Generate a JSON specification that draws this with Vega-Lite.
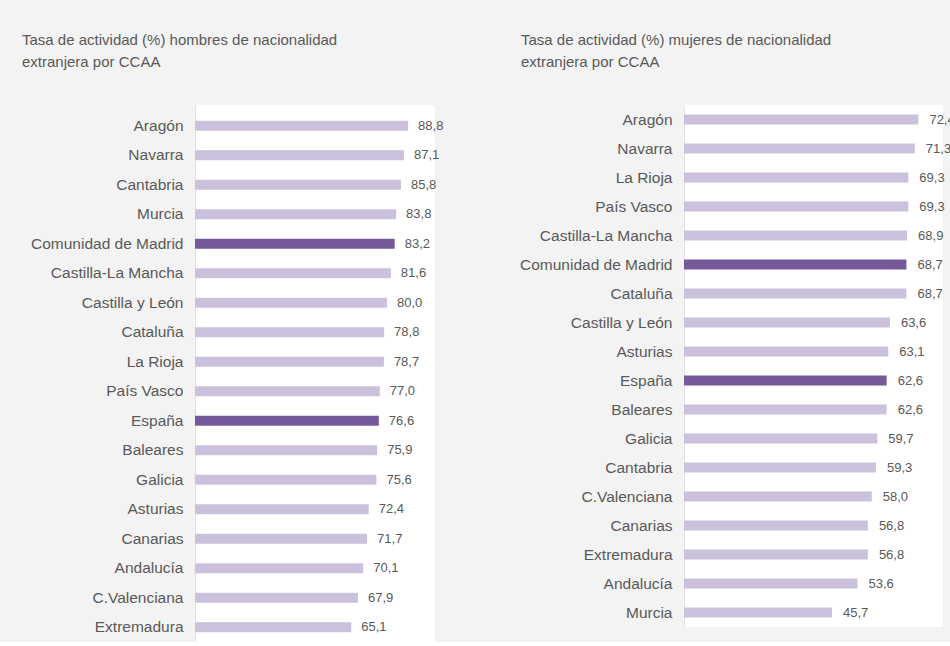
{
  "$schema": "https://vega.github.io/schema/vega-lite/v6.json",
  "background": "#F3F3F3",
  "padding": {"left": 22, "top": 33, "right": 0, "bottom": 0},
  "spacing": 75,
  "config": {
    "locale": {"number": {"decimal": ",", "thousands": ".", "grouping": [3], "currency": ["", " €"]}},
    "view": {"fill": "white", "stroke": null},
    "font": "Liberation Sans",
    "axis": {"title": null, "ticks": false, "tickSize": 0, "labelPadding": 12, "labelFontSize": 15.5, "labelColor": "#595959", "labelFont": "Liberation Sans", "domainColor": "#E3E3E3", "labelLimit": 300, "grid": false},
    "title": {"anchor": "start", "frame": "group", "fontSize": 15, "font": "Liberation Sans", "color": "#595959", "fontWeight": "normal", "lineHeight": 22, "offset": 35}
  },
  "datasets": {
    "hombres": [
      {"ccaa": "Aragón", "tasa": 88.8, "grupo": "otro"},
      {"ccaa": "Navarra", "tasa": 87.1, "grupo": "otro"},
      {"ccaa": "Cantabria", "tasa": 85.8, "grupo": "otro"},
      {"ccaa": "Murcia", "tasa": 83.8, "grupo": "otro"},
      {"ccaa": "Comunidad de Madrid", "tasa": 83.2, "grupo": "destacado"},
      {"ccaa": "Castilla-La Mancha", "tasa": 81.6, "grupo": "otro"},
      {"ccaa": "Castilla y León", "tasa": 80.0, "grupo": "otro"},
      {"ccaa": "Cataluña", "tasa": 78.8, "grupo": "otro"},
      {"ccaa": "La Rioja", "tasa": 78.7, "grupo": "otro"},
      {"ccaa": "País Vasco", "tasa": 77.0, "grupo": "otro"},
      {"ccaa": "España", "tasa": 76.6, "grupo": "destacado"},
      {"ccaa": "Baleares", "tasa": 75.9, "grupo": "otro"},
      {"ccaa": "Galicia", "tasa": 75.6, "grupo": "otro"},
      {"ccaa": "Asturias", "tasa": 72.4, "grupo": "otro"},
      {"ccaa": "Canarias", "tasa": 71.7, "grupo": "otro"},
      {"ccaa": "Andalucía", "tasa": 70.1, "grupo": "otro"},
      {"ccaa": "C.Valenciana", "tasa": 67.9, "grupo": "otro"},
      {"ccaa": "Extremadura", "tasa": 65.1, "grupo": "otro"}
    ],
    "mujeres": [
      {"ccaa": "Aragón", "tasa": 72.4, "grupo": "otro"},
      {"ccaa": "Navarra", "tasa": 71.3, "grupo": "otro"},
      {"ccaa": "La Rioja", "tasa": 69.3, "grupo": "otro"},
      {"ccaa": "País Vasco", "tasa": 69.3, "grupo": "otro"},
      {"ccaa": "Castilla-La Mancha", "tasa": 68.9, "grupo": "otro"},
      {"ccaa": "Comunidad de Madrid", "tasa": 68.7, "grupo": "destacado"},
      {"ccaa": "Cataluña", "tasa": 68.7, "grupo": "otro"},
      {"ccaa": "Castilla y León", "tasa": 63.6, "grupo": "otro"},
      {"ccaa": "Asturias", "tasa": 63.1, "grupo": "otro"},
      {"ccaa": "España", "tasa": 62.6, "grupo": "destacado"},
      {"ccaa": "Baleares", "tasa": 62.6, "grupo": "otro"},
      {"ccaa": "Galicia", "tasa": 59.7, "grupo": "otro"},
      {"ccaa": "Cantabria", "tasa": 59.3, "grupo": "otro"},
      {"ccaa": "C.Valenciana", "tasa": 58.0, "grupo": "otro"},
      {"ccaa": "Canarias", "tasa": 56.8, "grupo": "otro"},
      {"ccaa": "Extremadura", "tasa": 56.8, "grupo": "otro"},
      {"ccaa": "Andalucía", "tasa": 53.6, "grupo": "otro"},
      {"ccaa": "Murcia", "tasa": 45.7, "grupo": "otro"}
    ]
  },
  "hconcat": [
    {
      "width": 240,
      "height": 537,
      "data": {"name": "hombres"},
      "title": {"text": ["Tasa de actividad (%) hombres de nacionalidad", "extranjera por CCAA"], "dx": -173},
      "encoding": {
        "y": {"field": "ccaa", "type": "nominal", "sort": null, "scale": {"paddingInner": 0, "paddingOuter": 0.1017, "align": 1}},
        "x": {"field": "tasa", "type": "quantitative", "scale": {"domain": [0, 100]}, "axis": null}
      },
      "layer": [
        {"mark": {"type": "bar", "size": 10}, "encoding": {"color": {"field": "grupo", "type": "nominal", "scale": {"domain": ["otro", "destacado"], "range": ["#CCC1DD", "#76599A"]}, "legend": null}}},
        {"mark": {"type": "text", "align": "left", "baseline": "middle", "dx": 10, "fontSize": 13, "color": "#595959", "font": "Liberation Sans"}, "encoding": {"text": {"field": "tasa", "type": "quantitative", "format": ".1f"}}}
      ]
    },
    {
      "width": 259,
      "height": 522,
      "data": {"name": "mujeres"},
      "title": {"text": ["Tasa de actividad (%) mujeres de nacionalidad", "extranjera por CCAA"], "dx": -163},
      "encoding": {
        "y": {"field": "ccaa", "type": "nominal", "sort": null, "scale": {"paddingInner": 0, "paddingOuter": 0}},
        "x": {"field": "tasa", "type": "quantitative", "scale": {"domain": [0, 80]}, "axis": null}
      },
      "layer": [
        {"mark": {"type": "bar", "size": 10}, "encoding": {"color": {"field": "grupo", "type": "nominal", "scale": {"domain": ["otro", "destacado"], "range": ["#CCC1DD", "#76599A"]}, "legend": null}}},
        {"mark": {"type": "text", "align": "left", "baseline": "middle", "dx": 11, "fontSize": 13, "color": "#595959", "font": "Liberation Sans"}, "encoding": {"text": {"field": "tasa", "type": "quantitative", "format": ".1f"}}}
      ]
    }
  ]
}
